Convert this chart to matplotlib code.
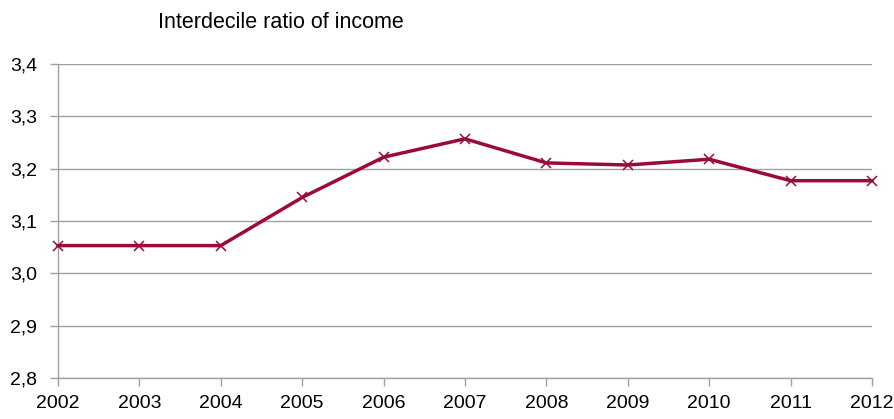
import matplotlib
matplotlib.use("Agg")
import matplotlib.pyplot as plt
from matplotlib.ticker import FuncFormatter

years = [2002, 2003, 2004, 2005, 2006, 2007, 2008, 2009, 2010, 2011, 2012]
ratio = [3.053, 3.053, 3.053, 3.145, 3.222, 3.257, 3.211, 3.207, 3.218, 3.177, 3.177]
y_ticks = [2.8, 2.9, 3.0, 3.1, 3.2, 3.3, 3.4]

plt.rcParams['font.family'] = ['Liberation Sans', 'DejaVu Sans']

fig = plt.figure(figsize=(8.95, 4.19), dpi=100)
ax = fig.add_axes([58 / 895, 41 / 419, 814 / 895, 314 / 419])

grid_col = '#a0a0a0'
ax.plot(years, ratio, color='#9b0a3a', lw=2.5, marker='x', ms=7, mew=1.1,
        solid_joinstyle='round', zorder=3, clip_on=False)

ax.set_xlim(years[0], years[-1])
ax.set_ylim(y_ticks[0], y_ticks[-1])
ax.set_xticks(years)
ax.set_yticks(y_ticks)
ax.yaxis.set_major_formatter(FuncFormatter(lambda v, p: f"{v:.1f}".replace('.', ',')))
ax.grid(axis='y', color=grid_col, lw=1)
ax.set_axisbelow(True)

for s in ['top', 'right']:
    ax.spines[s].set_visible(False)
for s in ['left', 'bottom']:
    ax.spines[s].set_color(grid_col)
    ax.spines[s].set_linewidth(1)

ax.tick_params(axis='both', colors=grid_col, length=6, width=1, labelsize=14,
               labelcolor='black')
ax.tick_params(axis='y', pad=9)
ax.tick_params(axis='x', pad=6)

fig.text(158 / 895, 1 - 22 / 419, 'Interdecile ratio of income', fontsize=15.5,
         va='center', ha='left')

fig.savefig('out.png', dpi=100)
